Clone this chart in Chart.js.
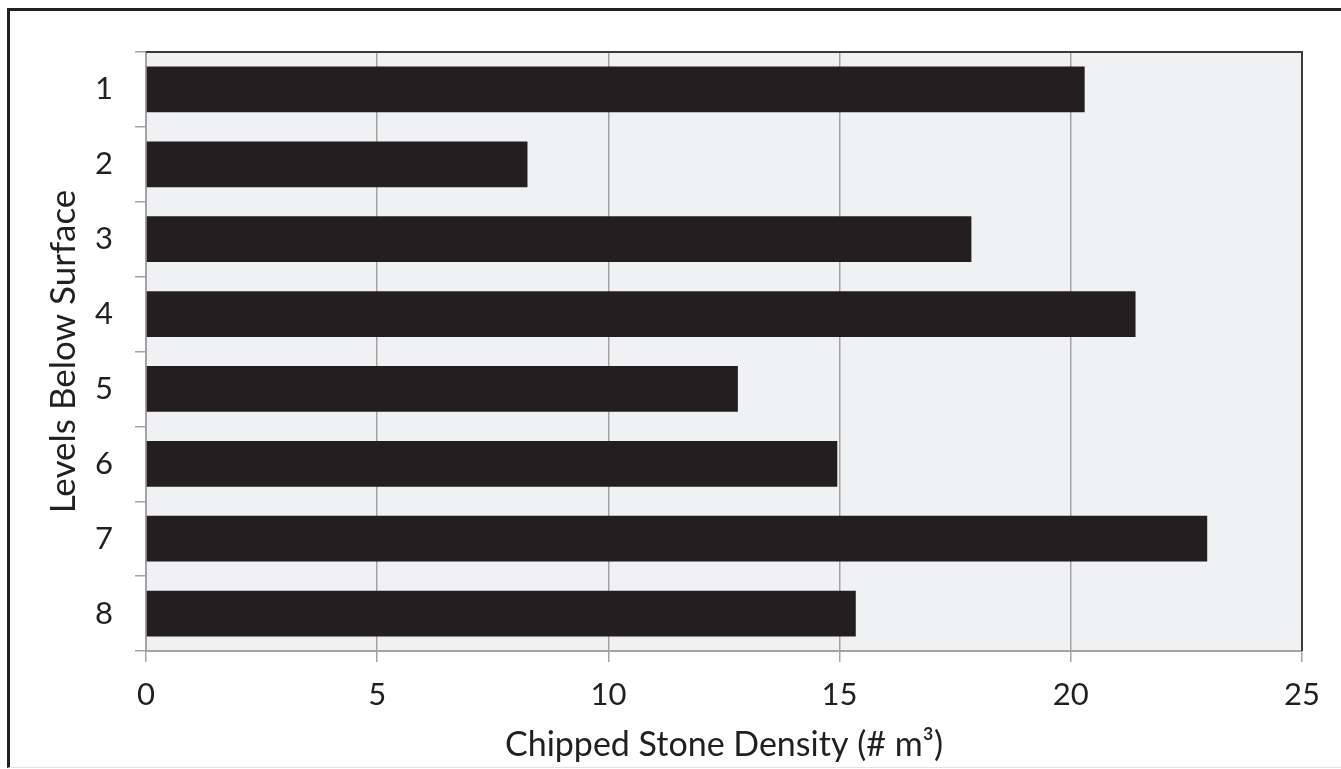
<!DOCTYPE html>
<html>
<head>
<meta charset="utf-8">
<script src="https://cdn.jsdelivr.net/npm/chart.js@4"></script>
<style>
  html, body { margin: 0; padding: 0; background: #fff; }
  #wrap { position: relative; width: 1341px; height: 769px; overflow: hidden; }
  #frame { position: absolute; left: 7px; top: 8px; right: -10px; bottom: 1px;
           border-left: 3px solid #231f20; border-top: 3px solid #231f20;
           border-bottom: 1px solid #e4e4e4; }
  canvas { position: absolute; left: 0; top: 0; }
</style>
</head>
<body>
<div id="wrap">
  <div id="frame"></div>
  <canvas id="c" width="1341" height="769"></canvas>
</div>
<script>
// data
const levels = ["1", "2", "3", "4", "5", "6", "7", "8"];
const density = [20.3, 8.25, 17.85, 21.4, 12.8, 14.95, 22.95, 15.35];
const xTicks = [0, 5, 10, 15, 20, 25];

const ink = '#231f20';
const axisGray = '#a3a3a3';
const fontFamily = 'Lato, "Open Sans", sans-serif';

// plot background + dark top/right border
const plotFrame = {
  id: 'plotFrame',
  beforeDraw(chart) {
    const { ctx, chartArea: a } = chart;
    ctx.save();
    ctx.fillStyle = '#f0f1f3';
    ctx.fillRect(a.left, a.top, a.right - a.left, a.bottom - a.top);
    ctx.restore();
  },
  afterDraw(chart) {
    const { ctx, chartArea: a } = chart;
    ctx.save();
    ctx.strokeStyle = '#3a3a3a';
    ctx.lineWidth = 2;
    ctx.beginPath();
    ctx.moveTo(a.left, a.top);
    ctx.lineTo(a.right, a.top);
    ctx.lineTo(a.right, a.bottom);
    ctx.stroke();
    ctx.restore();
  }
};

new Chart(document.getElementById('c'), {
  type: 'bar',
  data: {
    labels: levels,
    datasets: [{
      data: density,
      backgroundColor: ink,
      borderWidth: 0,
      categoryPercentage: 1,
      barPercentage: 0.61
    }]
  },
  options: {
    indexAxis: 'y',
    responsive: false,
    animation: false,
    layout: { padding: { left: 0, top: 52, right: 39, bottom: 0 } },
    plugins: { legend: { display: false }, tooltip: { enabled: false } },
    scales: {
      x: {
        min: 0,
        max: 25,
        afterBuildTicks(scale) { scale.ticks = xTicks.map(v => ({ value: v })); },
        afterFit(scale) { scale.height = 118; },
        grid: { color: axisGray, lineWidth: 1.5, tickLength: 11, drawOnChartArea: true },
        border: { color: axisGray, width: 2 },
        ticks: { color: ink, font: { family: fontFamily, size: 31 }, padding: 14, maxRotation: 0 },
        title: {
          display: true,
          text: 'Chipped Stone Density (# m\u00B3)',
          color: ink,
          font: { family: fontFamily, size: 34 },
          padding: { top: 0, bottom: 4 }
        }
      },
      y: {
        afterFit(scale) { scale.width = 146; },
        grid: { color: axisGray, lineWidth: 1.5, tickLength: 11, drawOnChartArea: false, offset: true },
        border: { color: axisGray, width: 2 },
        ticks: { color: ink, font: { family: fontFamily, size: 31 }, padding: 22 },
        title: {
          display: true,
          text: 'Levels Below Surface',
          color: ink,
          font: { family: fontFamily, size: 35 },
          padding: { top: 43, bottom: 0 }
        }
      }
    }
  },
  plugins: [plotFrame]
});
</script>
</body>
</html>
